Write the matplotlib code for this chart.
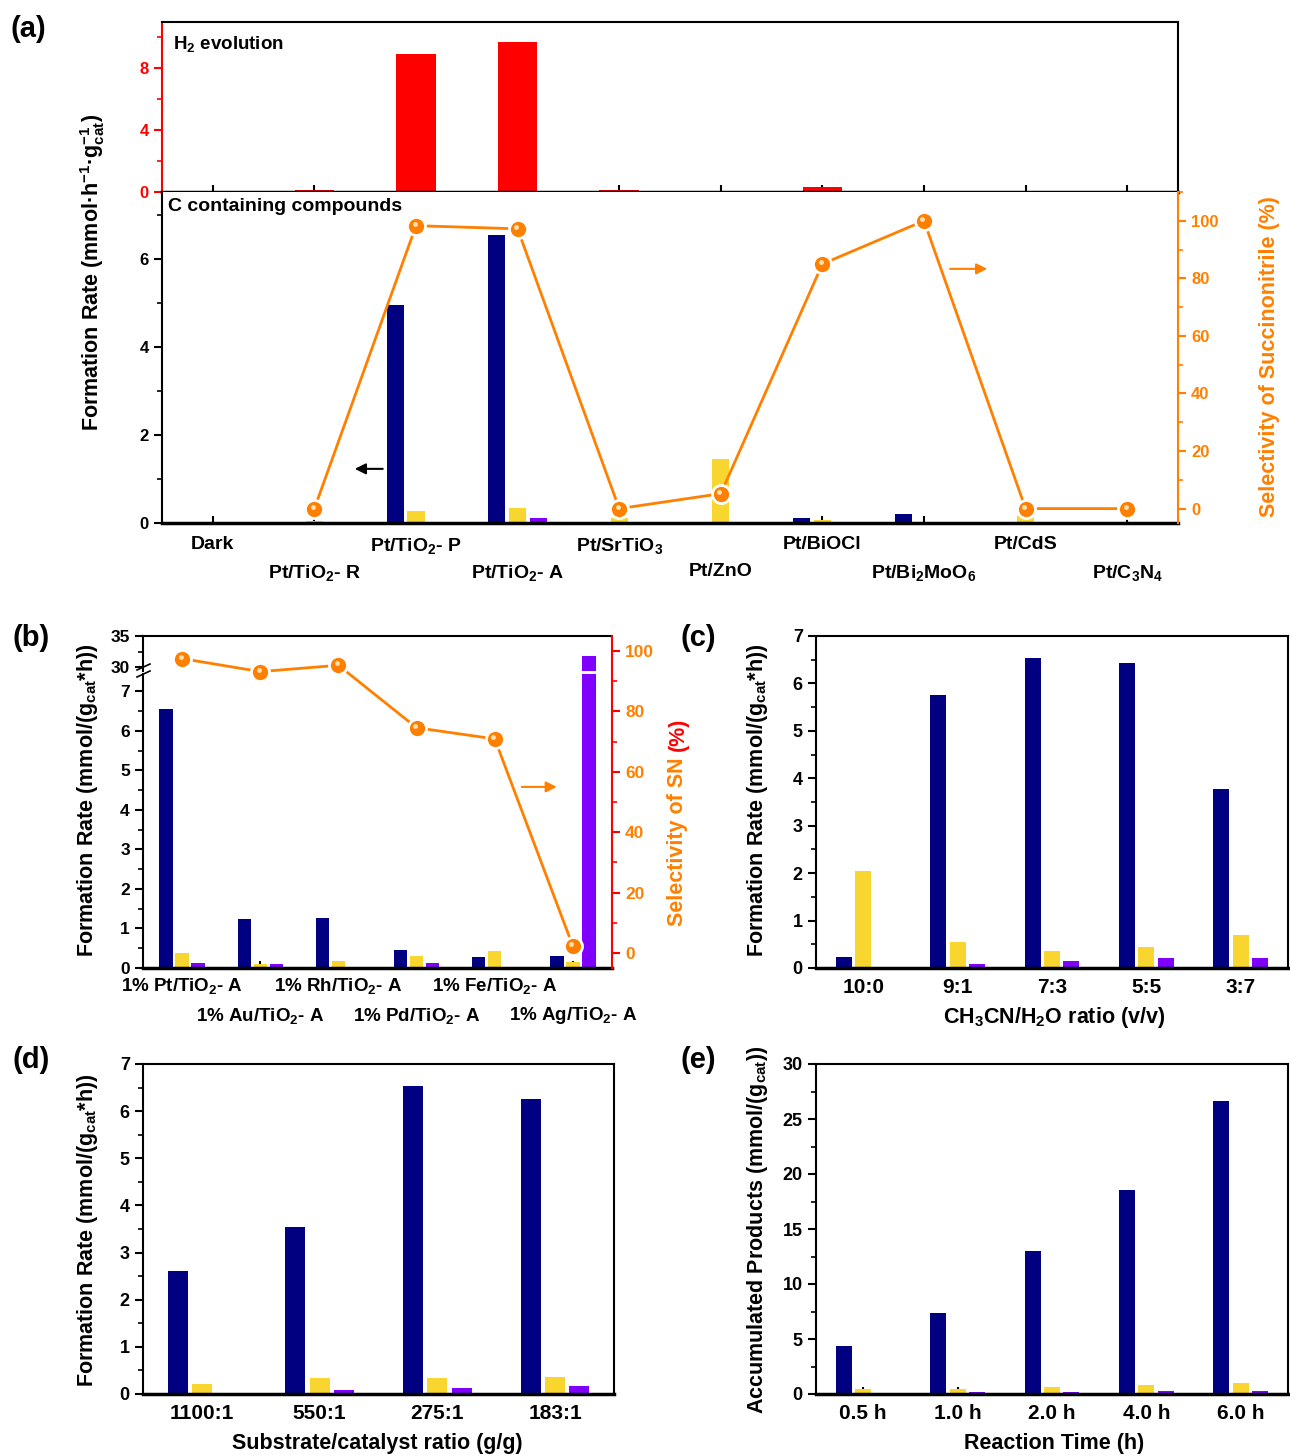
import numpy as np
import matplotlib
matplotlib.use('Agg')
import matplotlib.pyplot as plt
from matplotlib.ticker import MultipleLocator
from matplotlib.lines import Line2D
import matplotlib.transforms as mtrans

plt.rcParams['font.family'] = ['Liberation Sans', 'DejaVu Sans']
plt.rcParams['font.weight'] = 'bold'
plt.rcParams['mathtext.default'] = 'regular'

NAVY = '#000080'; YELLOW = '#F9D52F'; PURPLE = '#8000FF'; ORANGE = '#FF8000'; RED = '#FF0000'

# ---------------- data ----------------
a_catalysts = ['Dark', 'Pt/TiO$_2$- R', 'Pt/TiO$_2$- P', 'Pt/TiO$_2$- A', 'Pt/SrTiO$_3$',
               'Pt/ZnO', 'Pt/BiOCl', 'Pt/Bi$_2$MoO$_6$', 'Pt/CdS', 'Pt/C$_3$N$_4$']
a_h2 = [0, 0.1, 8.95, 9.7, 0.1, 0, 0.3, 0, 0, 0]
a_navy = [0, 0, 4.95, 6.55, 0, 0, 0.12, 0.20, 0, 0]
a_yellow = [0, 0.05, 0.27, 0.35, 0.12, 1.45, 0.07, 0, 0.15, 0]
a_purple = [0, 0, 0, 0.12, 0, 0, 0, 0, 0, 0]
a_sel = [np.nan, 0, 98.3, 97.2, 0, 5.2, 85.0, 100.0, 0, 0]

b_catalysts = ['1% Pt/TiO$_2$- A', '1% Au/TiO$_2$- A', '1% Rh/TiO$_2$- A',
               '1% Pd/TiO$_2$- A', '1% Fe/TiO$_2$- A', '1% Ag/TiO$_2$- A']
b_navy = [6.55, 1.23, 1.26, 0.45, 0.27, 0.30]
b_yellow = [0.37, 0.10, 0.17, 0.30, 0.42, 0.15]
b_purple = [0.13, 0.10, 0.02, 0.13, 0.0, 31.8]
b_sel = [97.5, 93.2, 95.3, 74.6, 70.9, 2.2]

c_ratios = ['10:0', '9:1', '7:3', '5:5', '3:7']
c_navy = [0.23, 5.75, 6.53, 6.43, 3.77]
c_yellow = [2.05, 0.55, 0.35, 0.45, 0.70]
c_purple = [0.0, 0.08, 0.14, 0.22, 0.21]

d_ratios = ['1100:1', '550:1', '275:1', '183:1']
d_navy = [2.60, 3.55, 6.53, 6.26]
d_yellow = [0.21, 0.33, 0.35, 0.37]
d_purple = [0.03, 0.08, 0.13, 0.18]

e_times = ['0.5 h', '1.0 h', '2.0 h', '4.0 h', '6.0 h']
e_navy = [4.4, 7.35, 13.0, 18.55, 26.6]
e_yellow = [0.45, 0.50, 0.65, 0.85, 1.0]
e_purple = [0.12, 0.22, 0.18, 0.27, 0.30]

# ---------------- layout helpers ----------------
W_PX, H_PX = 1290, 1456
fig = plt.figure(figsize=(W_PX / 100, H_PX / 100), dpi=100)


def fx(px):
    return px / W_PX


def fy(py):
    return 1 - py / H_PX


def rect(l, t, r, b):
    return [fx(l), fy(b), fx(r) - fx(l), fy(t) - fy(b)]


BW = 0.17
OFF = 0.205


def bars(ax, navy, yellow, purple):
    x = np.arange(len(navy))
    ax.bar(x - OFF, navy, BW, color=NAVY, zorder=2)
    ax.bar(x, yellow, BW, color=YELLOW, zorder=2)
    ax.bar(x + OFF, purple, BW, color=PURPLE, zorder=2)


def style(ax, ymaj, ymin, ylab=13, xlab=15):
    ax.yaxis.set_major_locator(MultipleLocator(ymaj))
    ax.yaxis.set_minor_locator(MultipleLocator(ymin))
    ax.tick_params(axis='y', which='major', direction='out', length=6, width=1.5, labelsize=ylab)
    ax.tick_params(axis='y', which='minor', direction='out', length=3.5, width=1.2)
    ax.tick_params(axis='x', which='major', direction='in', length=5, width=1.5, labelsize=xlab)
    ax.tick_params(axis='x', which='minor', bottom=False)
    for s in ax.spines.values():
        s.set_linewidth(1.5)
    ax.spines['bottom'].set_linewidth(2.5)


def sel_line(ax, x, y):
    ax.plot(x, y, '-', color=ORANGE, lw=2, zorder=3)
    ax.plot(x, y, 'o', color=ORANGE, ms=13, mec='white', mew=2, zorder=4)
    hl = mtrans.offset_copy(ax.transData, fig=fig, x=-1.5, y=2, units='dots')
    ax.plot(x, y, 'o', color='#FFE0B0', ms=3.5, mew=0, transform=hl, zorder=5)


def arrow(ax, x0, x1, y, color):
    ax.annotate('', xy=(x1, y), xytext=(x0, y),
                arrowprops=dict(arrowstyle='-|>', color=color, lw=1.5, mutation_scale=16))


# ---------------- panel (a) ----------------
xa = np.arange(len(a_catalysts))
ax1 = fig.add_axes(rect(162, 22, 1178, 192))
ax1.bar(xa, a_h2, 0.39, color=RED, zorder=2)
ax1.set_xlim(-0.5, 9.5)
ax1.set_ylim(0, 11)
style(ax1, 4, 2, ylab=12)
ax1.set_xticks(xa)
ax1.set_xticklabels([])
ax1.spines['left'].set_color(RED)
ax1.spines['bottom'].set_linewidth(2.5)
ax1.tick_params(axis='y', which='both', colors=RED)
ax1.text(0.011, 0.87, 'H$_2$ evolution', transform=ax1.transAxes, fontsize=13.5,
         va='center', ha='left')

ax2 = fig.add_axes(rect(162, 192, 1178, 523))
bars(ax2, a_navy, a_yellow, a_purple)
ax2.set_xlim(-0.5, 9.5)
ax2.set_ylim(0, 7.52)
style(ax2, 2, 1, ylab=12, xlab=14)
ax2.set_xticks(xa)
ax2.set_xticklabels(a_catalysts)
for i, t in enumerate(ax2.xaxis.get_major_ticks()):
    t.set_pad(9 if i % 2 == 0 else 29)
ax2.spines['top'].set_visible(False)
ax2.spines['right'].set_visible(False)
ax2.text(0.006, 0.955, 'C containing compounds', transform=ax2.transAxes, fontsize=14,
         va='center', ha='left')
arrow(ax2, 1.70, 1.37, 1.23, 'black')

axr = ax2.twinx()
axr.set_ylim(-5, 110)
axr.set_xlim(-0.5, 9.5)
for s in ('top', 'left', 'bottom'):
    axr.spines[s].set_visible(False)
axr.spines['right'].set_color(ORANGE)
axr.spines['right'].set_linewidth(1.5)
axr.yaxis.set_major_locator(MultipleLocator(20))
axr.yaxis.set_minor_locator(MultipleLocator(10))
axr.tick_params(axis='y', which='major', colors=ORANGE, direction='out', length=6, width=1.5, labelsize=12)
axr.tick_params(axis='y', which='minor', colors=ORANGE, direction='out', length=3.5, width=1.2)
sel_line(axr, xa, a_sel)
arrow(axr, 7.23, 7.65, 83.3, ORANGE)

fig.text(fx(93), fy(272), 'Formation Rate (mmol·h$^{-1}$·g$_{cat}^{-1}$)', rotation=90,
         ha='center', va='center', fontsize=15.5)
fig.text(fx(1270), fy(357), 'Selectivity of Succinonitrile (%)', rotation=90,
         ha='center', va='center', fontsize=15.5, color=ORANGE)

# ---------------- panel (b) ----------------
xb = np.arange(len(b_catalysts))
axbl = fig.add_axes(rect(143, 674, 612, 968))
axbh = fig.add_axes(rect(143, 636, 612, 671))
for ax in (axbl, axbh):
    bars(ax, b_navy, b_yellow, b_purple)
    ax.set_xlim(-0.5, 5.5)
    ax.spines['right'].set_visible(False)
axbl.set_ylim(0, 7.44)
axbh.set_ylim(29.4, 35)
style(axbl, 1, 0.5, ylab=12.5, xlab=13.5)
style(axbh, 5, 2.5, ylab=12.5)
axbl.spines['top'].set_visible(False)
axbh.spines['bottom'].set_visible(False)
axbh.set_xticks([])
axbl.set_xticks(xb)
axbl.set_xticklabels(b_catalysts)
for i, t in enumerate(axbl.xaxis.get_major_ticks()):
    t.set_pad(6 if i % 2 == 0 else 27)
# break marks on left spine
for yy in (667, 674):
    fig.add_artist(Line2D([fx(137), fx(150)], [fy(yy + 3), fy(yy - 3)], color='black', lw=1.2))

axbr = fig.add_axes(rect(143, 636, 612, 968))
axbr.patch.set_visible(False)
axbr.set_xlim(-0.5, 5.5)
axbr.set_ylim(-5, 105)
axbr.set_xticks([])
axbr.yaxis.tick_right()
for s in ('top', 'left', 'bottom'):
    axbr.spines[s].set_visible(False)
axbr.spines['right'].set_color(RED)
axbr.spines['right'].set_linewidth(1.5)
axbr.yaxis.set_major_locator(MultipleLocator(20))
axbr.yaxis.set_minor_locator(MultipleLocator(10))
axbr.tick_params(axis='y', which='major', colors=RED, labelcolor=ORANGE, direction='out',
                 length=6, width=1.5, labelsize=12.5)
axbr.tick_params(axis='y', which='minor', colors=RED, direction='out', length=3.5, width=1.2)
sel_line(axbr, xb, b_sel)
arrow(axbr, 4.31, 4.83, 55, ORANGE)

fig.text(fx(88), fy(800), 'Formation Rate (mmol/(g$_{cat}$*h))', rotation=90,
         ha='center', va='center', fontsize=15.5)
fig.text(fx(678), fy(842), 'Selectivity of SN', rotation=90,
         ha='center', va='center', fontsize=15.5, color=ORANGE)
fig.text(fx(678), fy(734), '(%)', rotation=90,
         ha='center', va='center', fontsize=15.5, color=RED)

# ---------------- panel (c) ----------------
xc = np.arange(len(c_ratios))
axc = fig.add_axes(rect(816, 636, 1288, 968))
bars(axc, c_navy, c_yellow, c_purple)
axc.set_xlim(-0.5, 4.5)
axc.set_ylim(0, 7)
style(axc, 1, 0.5)
axc.set_xticks(xc)
axc.set_xticklabels(c_ratios)
axc.tick_params(axis='x', pad=7)
fig.text(fx(757), fy(800), 'Formation Rate (mmol/(g$_{cat}$*h))', rotation=90,
         ha='center', va='center', fontsize=15.5)
fig.text(fx(1054), fy(1017), 'CH$_3$CN/H$_2$O ratio (v/v)', ha='center', va='center', fontsize=15.5)

# ---------------- panel (d) ----------------
xd = np.arange(len(d_ratios))
axd = fig.add_axes(rect(143, 1064, 614, 1394))
bars(axd, d_navy, d_yellow, d_purple)
axd.set_xlim(-0.5, 3.5)
axd.set_ylim(0, 7)
style(axd, 1, 0.5)
axd.set_xticks(xd)
axd.set_xticklabels(d_ratios)
axd.tick_params(axis='x', pad=7)
fig.text(fx(88), fy(1230), 'Formation Rate (mmol/(g$_{cat}$*h))', rotation=90,
         ha='center', va='center', fontsize=15.5)
fig.text(fx(377), fy(1443), 'Substrate/catalyst ratio (g/g)', ha='center', va='center', fontsize=15.5)

# ---------------- panel (e) ----------------
xe = np.arange(len(e_times))
axe = fig.add_axes(rect(816, 1064, 1288, 1394))
bars(axe, e_navy, e_yellow, e_purple)
axe.set_xlim(-0.5, 4.5)
axe.set_ylim(0, 30)
style(axe, 5, 2.5)
axe.set_xticks(xe)
axe.set_xticklabels(e_times)
axe.tick_params(axis='x', pad=7)
fig.text(fx(757), fy(1230), 'Accumulated Products (mmol/(g$_{cat}$))', rotation=90,
         ha='center', va='center', fontsize=15.5)
fig.text(fx(1054), fy(1443), 'Reaction Time (h)', ha='center', va='center', fontsize=15.5)

# ---------------- panel labels ----------------
for lab, px, py in (('(a)', 10, 29), ('(b)', 12, 638), ('(c)', 680, 638),
                    ('(d)', 12, 1060), ('(e)', 680, 1060)):
    fig.text(fx(px), fy(py), lab, ha='left', va='center', fontsize=21)

fig.savefig('out.png', dpi=100)
